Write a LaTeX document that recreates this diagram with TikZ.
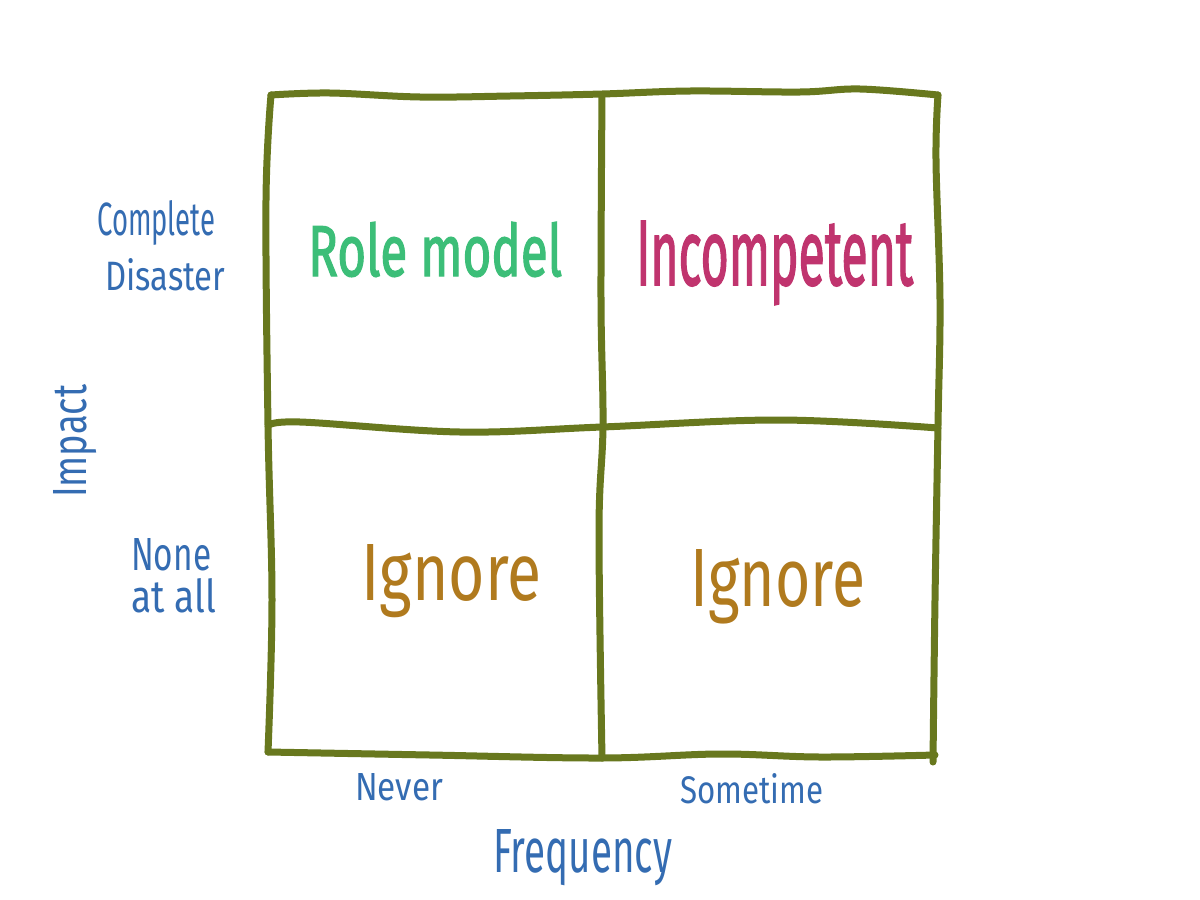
\documentclass[tikz,border=0pt]{standalone}
\usepackage{fontspec}
\usepackage{graphicx}
\setmainfont{Fira Sans}
\definecolor{gridolive}{RGB}{104,120,30}
\definecolor{lblblue}{RGB}{52,108,178}
\definecolor{rolegreen}{RGB}{60,190,120}
\definecolor{incmag}{RGB}{192,52,110}
\definecolor{ignbrown}{RGB}{176,122,30}
\newcommand{\hw}[3]{\resizebox{#1}{#2}{#3}}
\begin{document}
\begin{tikzpicture}[x=1pt,y=-1pt,
  gridline/.style={draw=gridolive,line width=7pt,line cap=round,line join=round},
  axislabel/.style={text=lblblue,inner sep=0pt,anchor=base west,font=\fontsize{30}{30}\selectfont},
  cellword/.style={inner sep=0pt,anchor=base west,font=\fontsize{50}{50}\selectfont}]
\useasboundingbox[fill=white] (0,0) rectangle (1200,900);
% grid
\draw[gridline] plot[smooth,tension=0.6] coordinates {(271,95) (330,93) (420,97) (510,96) (602,94) (690,91) (800,92) (860,89) (938,95)};
\draw[gridline] plot[smooth,tension=0.6] coordinates {(938,95) (936,160) (940,300) (938,425) (935,600) (933,762)};
\draw[gridline] plot[smooth,tension=0.6] coordinates {(271,95) (266,200) (268,425) (272,600) (268,752)};
\draw[gridline] plot[smooth,tension=0.6] coordinates {(268,752) (430,755) (602,758) (720,754) (820,757) (935,755)};
\draw[gridline] plot[smooth,tension=0.6] coordinates {(268,426) (300,422) (460,432) (602,427) (780,420) (938,428)};
\draw[gridline] plot[smooth,tension=0.6] coordinates {(602,95) (601,300) (603,425) (599,530) (602,758)};
% cell texts
\node[cellword,text=rolegreen] (role) at (308,276) {\hw{254pt}{54pt}{\addfontfeatures{FakeBold=2}Role model}};
\node[cellword,text=incmag] (incomp) at (636,285) {\hw{277pt}{64pt}{\addfontfeatures{FakeBold=2}Incompetent}};
\node[cellword,text=ignbrown,font=\fontsize{40}{40}\selectfont] (ignl) at (361,600) {\hw{180pt}{56pt}{Ignore}};
\node[cellword,text=ignbrown,font=\fontsize{40}{40}\selectfont] (ignr) at (690,606) {\hw{175pt}{57pt}{Ignore}};
% axis labels
\node[axislabel] (complete) at (97,235) {\hw{118pt}{35pt}{Complete}};
\node[axislabel] (disaster) at (105,290) {\hw{120pt}{32pt}{Disaster}};
\node[axislabel] (none) at (131,570) {\hw{80pt}{32pt}{None}};
\node[axislabel] (atall) at (131,612) {\hw{85pt}{34pt}{at all}};
\node[axislabel] (never) at (355,800) {\hw{88pt}{27pt}{Never}};
\node[axislabel] (sometime) at (680,803) {\hw{143pt}{30pt}{Sometime}};
\node[axislabel] (freq) at (493,872) {\hw{179pt}{43pt}{Frequency}};
\node[axislabel,rotate=90] (impact) at (86,498) {\hw{113pt}{33pt}{Impact}};
\end{tikzpicture}
\end{document}
